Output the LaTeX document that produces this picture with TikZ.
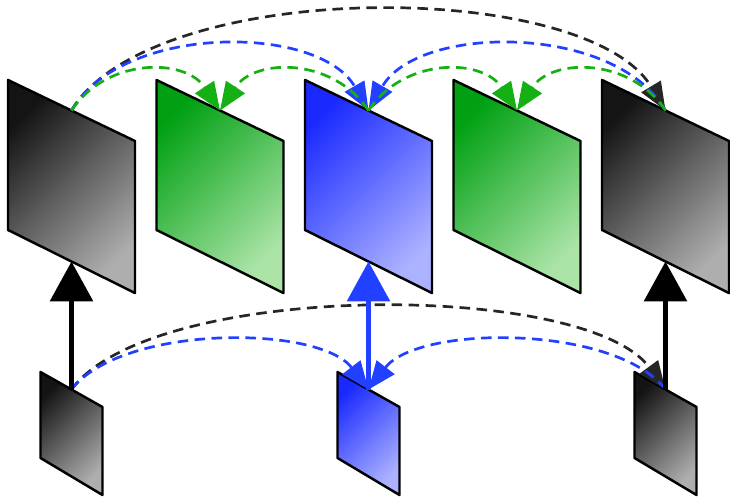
\documentclass[tikz,border=0pt]{standalone}
\usepackage{xcolor}
\usetikzlibrary{arrows.meta}

\definecolor{grayA}{HTML}{141414}
\definecolor{grayB}{HTML}{AEAEAE}
\definecolor{greenA}{HTML}{00A012}
\definecolor{greenB}{HTML}{ACE4A8}
\definecolor{blueA}{HTML}{1A2AFF}
\definecolor{blueB}{HTML}{ACB2FF}
\definecolor{lineblue}{HTML}{2240FF}
\definecolor{linegreen}{HTML}{14B014}

\begin{document}
\begin{tikzpicture}[x=0.03cm, y=-0.03cm,
  panel/.style={draw=black, line width=2.1pt, line join=round},
  link/.style={line width=2.3pt, dash pattern=on 9pt off 5.5pt,
    -{Triangle[length=24pt, width=19pt]}},
  lift/.style={line width=4.6pt, -{Triangle[length=34pt, width=36pt]}}]
  \useasboundingbox (0,0) rectangle (730,499);
  % Large panels (top row)
  \foreach \x/\ca/\cb [count=\i] in {8/grayA/grayB, 156.5/greenA/greenB,
      305/blueA/blueB, 453.5/greenA/greenB, 602/grayA/grayB} {
    \shadedraw[panel, top color=\ca, bottom color=\cb, shading angle=45]
      (\x,80) -- (\x+127,141) -- (\x+127,293) -- (\x,230) -- cycle;
    \coordinate (big\i top) at (\x+63.5,110.5);
    \coordinate (big\i bot) at (\x+63.5,261.5);
  }
  % Small panels (bottom row)
  \foreach \x/\ca/\cb [count=\i] in {40.5/grayA/grayB, 337.5/blueA/blueB,
      634.5/grayA/grayB} {
    \shadedraw[panel, top color=\ca, bottom color=\cb, shading angle=45]
      (\x,372) -- (\x+62,407) -- (\x+62,495) -- (\x,458) -- cycle;
    \coordinate (small\i top) at (\x+31,389.5);
  }
  % Dashed links, top row
  \draw[link, black!85] (big1top) .. controls +(80,-133) and +(-80,-133) .. (big5top);
  \draw[link, lineblue] (big1top) .. controls +(50,-87) and +(-50,-87) .. (big3top);
  \draw[link, lineblue] (big5top) .. controls +(-50,-87) and +(50,-87) .. (big3top);
  \draw[link, linegreen] (big1top) .. controls +(35,-53) and +(-35,-53) .. (big2top);
  \draw[link, linegreen] (big3top) .. controls +(-35,-53) and +(35,-53) .. (big2top);
  \draw[link, linegreen] (big3top) .. controls +(35,-53) and +(-35,-53) .. (big4top);
  \draw[link, linegreen] (big5top) .. controls +(-35,-53) and +(35,-53) .. (big4top);
  % Dashed links, bottom row
  \draw[link, black!85] (small1top) .. controls +(80,-109) and +(-80,-109) .. (small3top);
  \draw[link, lineblue] (small1top) .. controls +(50,-65) and +(-50,-65) .. (small2top);
  \draw[link, lineblue] (small3top) .. controls +(-50,-65) and +(50,-65) .. (small2top);
  % Vertical arrows
  \draw[lift] (small1top) -- (big1bot);
  \draw[lift, lineblue] (small2top) -- (big3bot);
  \draw[lift] (small3top) -- (big5bot);
\end{tikzpicture}
\end{document}
